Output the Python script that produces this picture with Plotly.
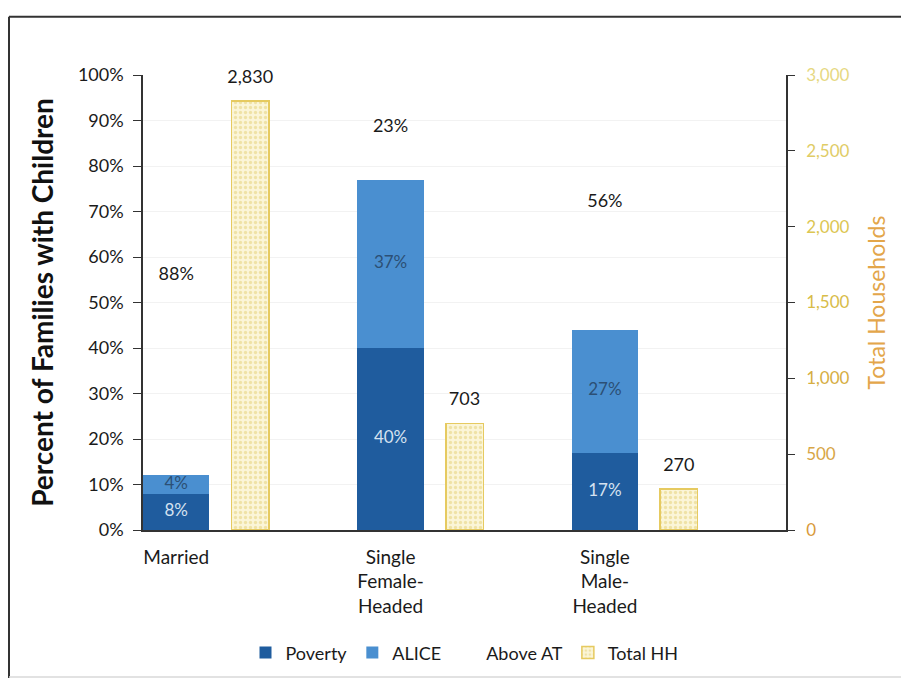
import plotly.graph_objects as go

categories = ["Married", "Single<br>Female-<br>Headed", "Single<br>Male-<br>Headed"]
poverty = [8, 40, 17]
alice = [4, 37, 27]
above_at = [88, 23, 56]
total_hh = [2830, 703, 270]
hh_tickvals = [0, 500, 1000, 1500, 2000, 2500, 3000]
hh_ticklabels = ["0", "500", "1,000", "1,500", "2,000", "2,500", "3,000"]
hh_tickcolors = ["#d99a3a", "#d8a646", "#d6ae42", "#d8bc48", "#dcc652", "#e0cc66", "#e6d882"]

FONT = "Lato, 'Open Sans', sans-serif"
idx = list(range(len(categories)))
stack_off = -0.345
xs = [i + stack_off for i in idx]
xh = [i + 0.0 for i in idx]

fig = go.Figure()
fig.add_trace(go.Bar(
    name="Poverty", x=xs, y=poverty, width=0.31,
    marker=dict(color="#1f5c9e", line=dict(width=0)), hoverinfo="skip",
))
fig.add_trace(go.Bar(
    name="ALICE", x=xs, y=alice, width=0.31,
    marker=dict(color="#4a8fd0", line=dict(width=0)), hoverinfo="skip",
))
fig.add_trace(go.Bar(
    name="Above AT", x=xs, y=above_at, width=0.31,
    marker=dict(color="rgba(255,255,255,0)", line=dict(width=0)), hoverinfo="skip",
))
fig.add_trace(go.Bar(
    name="Total HH", x=xh, y=total_hh, width=0.175, yaxis="y2",
    marker=dict(color="#faf3cf", line=dict(color="#e6ca60", width=1.5),
                pattern=dict(shape=".", fgcolor="#e4cf74", bgcolor="#fbf5d8",
                             size=5, solidity=0.35)),
))

# segment labels at the middle of each stacked segment
pov_mid = [p / 2 for p in poverty]
ali_mid = [p + a / 2 for p, a in zip(poverty, alice)]
abv_mid = [p + a + b / 2 for p, a, b in zip(poverty, alice, above_at)]
for mids, vals, col, sz in [(pov_mid, poverty, "#d5e2f0", 17),
                            (ali_mid, alice, "#2c4f75", 17),
                            (abv_mid, above_at, "#1a1a1a", 18)]:
    fig.add_trace(go.Scatter(
        x=xs, y=mids, mode="text", text=[f"{v}%" for v in vals],
        textposition="middle center",
        textfont=dict(color=col, size=sz, family=FONT),
        showlegend=False, hoverinfo="skip",
    ))

fig.add_trace(go.Scatter(
    x=xh, y=total_hh, yaxis="y2", mode="markers+text",
    marker=dict(size=20, color="rgba(0,0,0,0)"),
    text=[f"{v:,}" for v in total_hh], textposition="top center",
    textfont=dict(color="#1a1a1a", size=18, family=FONT),
    showlegend=False, hoverinfo="skip", cliponaxis=False,
))

hh_ticktext = [f"<span style='color:{c}'>{t}</span>" for t, c in zip(hh_ticklabels, hh_tickcolors)]

fig.update_layout(
    width=909, height=681,
    barmode="stack",
    paper_bgcolor="white", plot_bgcolor="white",
    margin=dict(l=135, r=131, t=67, b=159),
    font=dict(family=FONT, size=18, color="#1a1a1a"),
    showlegend=True,
    legend=dict(orientation="h", x=0.5, xanchor="center", y=-0.27, yanchor="middle",
                font=dict(size=18, family=FONT, color="#1a1a1a"),
                traceorder="normal"),
    xaxis=dict(range=[-0.5, 2.5], tickvals=xs, ticktext=categories,
               showline=True, linecolor="#333", linewidth=1.5,
               ticks="", showgrid=False, zeroline=False, ticklabelstandoff=9,
               tickfont=dict(size=19, family=FONT, color="#1a1a1a")),
    yaxis=dict(range=[0, 100], dtick=10, ticksuffix="%",
               showline=True, linecolor="#333", linewidth=1.5,
               ticks="outside", ticklen=8, tickcolor="#333", ticklabelstandoff=6,
               showgrid=True, gridcolor="#f2f2f2", zeroline=False,
               tickfont=dict(size=18, family=FONT, color="#1a1a1a"),
               title=dict(text="<b>Percent of Families with Children</b>",
                          font=dict(size=28, family=FONT, color="#111"), standoff=16)),
    yaxis2=dict(range=[0, 3000], tickvals=hh_tickvals, ticktext=hh_ticktext,
                overlaying="y", side="right",
                showline=True, linecolor="#333", linewidth=1.5,
                ticks="outside", ticklen=7, tickcolor="#333", ticklabelstandoff=8,
                showgrid=False, zeroline=False,
                tickfont=dict(size=17, family=FONT, color="#dcc050"),
                title=dict(text="Total Households",
                           font=dict(size=23, family=FONT, color="#e3a64a"), standoff=20)),
    shapes=[
        dict(type="line", xref="paper", yref="paper", x0=-0.2084, x1=1.3, y0=1.128, y1=1.128,
             line=dict(color="#333", width=2)),
        dict(type="line", xref="paper", yref="paper", x0=-0.2084, x1=-0.2084, y0=1.128, y1=-0.325,
             line=dict(color="#333", width=2)),
        dict(type="line", xref="paper", yref="paper", x0=-0.2084, x1=1.3, y0=-0.323, y1=-0.323,
             line=dict(color="#d8d8d8", width=1.5)),
    ],
)

fig.write_html("out.html")
